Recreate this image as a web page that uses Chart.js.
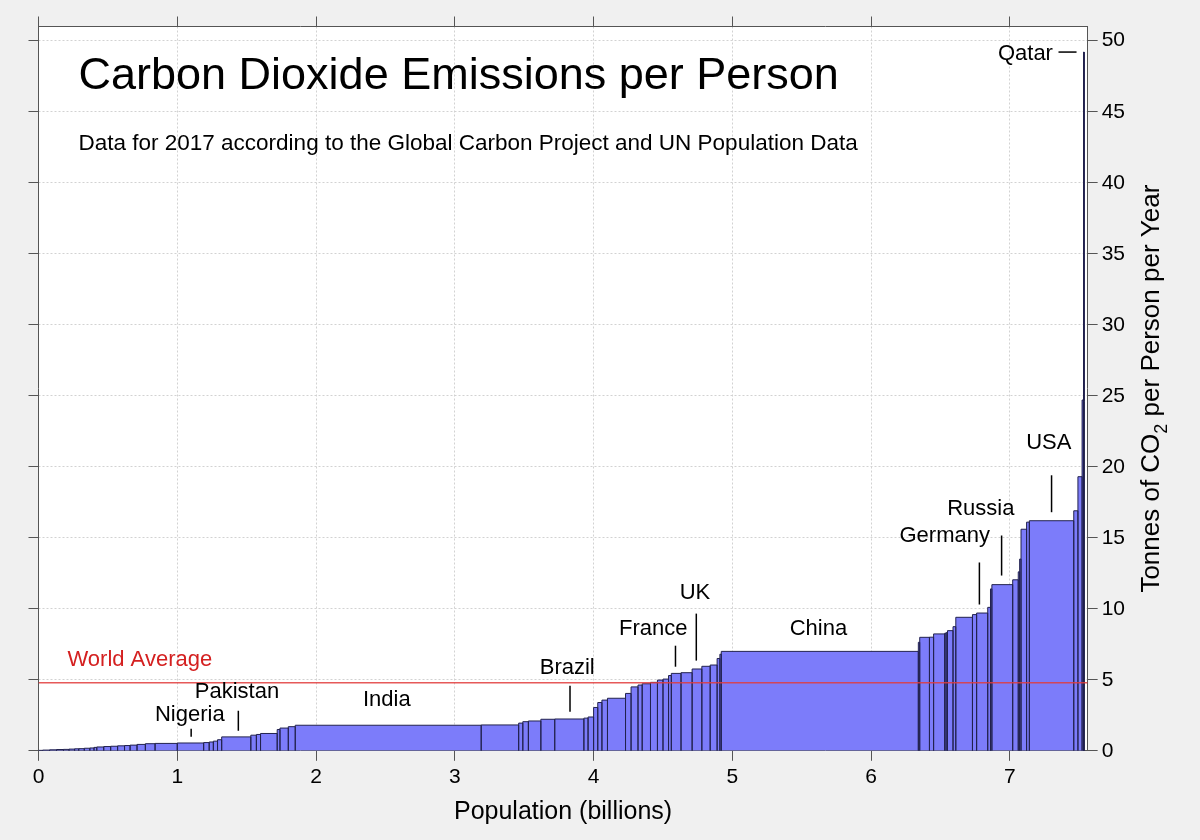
<!DOCTYPE html>
<html>
<head>
<meta charset="utf-8">
<script src="https://cdn.jsdelivr.net/npm/chart.js@4.4.1/dist/chart.umd.min.js"></script>
<style>
  html, body { margin: 0; padding: 0; background: #f0f0f0; }
  #wrap { width: 1200px; height: 840px; }
</style>
</head>
<body>
<div id="wrap"><canvas id="chart" width="1200" height="840"></canvas></div>
<script>
// population of each country (billions), sorted by emissions per person
const population = [
  0.03, 0.05, 0.05, 0.05, 0.04, 0.04, 0.03, 0.04, 0.04, 0.03,
  0.02, 0.05, 0.05, 0.05, 0.05, 0.04, 0.05, 0.06, 0.07, 0.16,
  0.19, 0.04, 0.03, 0.03, 0.03, 0.21, 0.04, 0.03, 0.12, 0.02,
  0.06, 0.05, 1.34, 0.27, 0.03, 0.04, 0.09, 0.10, 0.21, 0.03,
  0.04, 0.03, 0.03, 0.04, 0.13, 0.04, 0.05, 0.03, 0.06, 0.05,
  0.04, 0.04, 0.02, 0.07, 0.08, 0.07, 0.06, 0.05, 0.02, 0.01,
  1.42, 0.01, 0.07, 0.03, 0.08, 0.01, 0.01, 0.04, 0.02, 0.12,
  0.03, 0.08, 0.02, 0.01, 0.15, 0.04, 0.01, 0.01, 0.04, 0.02,
  0.32, 0.03, 0.03, 0.008, 0.004, 0.003
];
// tonnes of CO2 per person per year
const emissions = [
  0.03, 0.05, 0.07, 0.09, 0.10, 0.12, 0.14, 0.15, 0.18, 0.20,
  0.24, 0.27, 0.30, 0.32, 0.35, 0.37, 0.40, 0.45, 0.50, 0.52,
  0.55, 0.58, 0.62, 0.68, 0.78, 0.98, 1.10, 1.15, 1.22, 1.50,
  1.60, 1.70, 1.80, 1.82, 1.95, 2.05, 2.10, 2.22, 2.24, 2.30,
  2.38, 3.05, 3.40, 3.57, 3.70, 4.04, 4.50, 4.63, 4.72, 4.82,
  4.98, 5.05, 5.30, 5.45, 5.50, 5.76, 5.95, 6.04, 6.50, 6.80,
  7.00, 7.64, 7.99, 8.00, 8.23, 8.28, 8.32, 8.46, 8.74, 9.40,
  9.59, 9.70, 10.10, 11.40, 11.70, 12.04, 12.60, 13.50, 15.60, 16.10,
  16.20, 16.90, 19.30, 24.70, 29.00, 49.20
];
const worldAverage = 4.8;
const xTickValues = [0, 1, 2, 3, 4, 5, 6, 7];
const yTickValues = [0, 5, 10, 15, 20, 25, 30, 35, 40, 45, 50];

// labels and pointer lines, in data units
const notes = [
  { text: 'Nigeria',  x: 1.09, y: 2.55,  line: [1.10, 0.99, 1.10, 1.55] },
  { text: 'Pakistan', x: 1.43, y: 4.16,  line: [1.44, 1.41, 1.44, 2.82] },
  { text: 'India',    x: 2.51, y: 3.55 },
  { text: 'Brazil',   x: 3.81, y: 5.85,  line: [3.83, 2.75, 3.83, 4.58] },
  { text: 'France',   x: 4.43, y: 8.6,   line: [4.59, 5.92, 4.59, 7.4] },
  { text: 'UK',       x: 4.73, y: 11.15, line: [4.74, 6.35, 4.74, 9.66] },
  { text: 'China',    x: 5.62, y: 8.6 },
  { text: 'Germany',  x: 6.53, y: 15.1,  line: [6.78, 10.3, 6.78, 13.26] },
  { text: 'Russia',   x: 6.79, y: 17.05, line: [6.94, 12.34, 6.94, 15.16] },
  { text: 'USA',      x: 7.28, y: 21.65, line: [7.30, 16.8, 7.30, 19.4] },
  { text: 'Qatar',    x: 7.31, y: 49.1,  align: 'right', line: [7.35, 49.2, 7.48, 49.2] }
];

const FONT = '"Liberation Sans", Arial, sans-serif';

const outline = [];
let start = 0;
population.forEach((w, i) => {
  const end = start + w;
  outline.push({ x: start, y: 0 }, { x: start, y: emissions[i] },
               { x: end, y: emissions[i] }, { x: end, y: 0 });
  start = end;
});

const decor = {
  id: 'decor',
  beforeDraw(chart) {
    const { ctx, chartArea: a } = chart;
    ctx.save();
    ctx.fillStyle = '#f0f0f0';
    ctx.fillRect(0, 0, chart.width, chart.height);
    ctx.fillStyle = '#ffffff';
    ctx.fillRect(a.left, a.top, a.right - a.left, a.bottom - a.top);
    ctx.restore();
  },
  afterDatasetsDraw(chart) {
    const { ctx, chartArea: a, scales } = chart;
    const sx = scales.x, sy = scales.y;
    ctx.save();
    // title
    ctx.fillStyle = '#000';
    ctx.textBaseline = 'middle';
    ctx.textAlign = 'left';
    ctx.font = '45px ' + FONT;
    ctx.fillText('Carbon Dioxide Emissions per Person', a.left + 40, 77);
    ctx.font = '22.5px ' + FONT;
    ctx.fillText('Data for 2017 according to the Global Carbon Project and UN Population Data', a.left + 40, 144);

    // world average label
    ctx.fillStyle = '#d42020';
    ctx.font = '22px ' + FONT;
    ctx.textAlign = 'center';
    ctx.fillText('World Average', sx.getPixelForValue(0.73), sy.getPixelForValue(6.42));

    // country labels
    ctx.fillStyle = '#000';
    ctx.strokeStyle = '#000';
    ctx.lineWidth = 1.5;
    notes.forEach(n => {
      ctx.textAlign = n.align || 'center';
      ctx.fillText(n.text, sx.getPixelForValue(n.x), sy.getPixelForValue(n.y));
      if (n.line) {
        ctx.beginPath();
        ctx.moveTo(sx.getPixelForValue(n.line[0]), sy.getPixelForValue(n.line[1]));
        ctx.lineTo(sx.getPixelForValue(n.line[2]), sy.getPixelForValue(n.line[3]));
        ctx.stroke();
      }
    });

    // right axis title with subscript
    ctx.translate(a.right + 64, (a.top + a.bottom) / 2);
    ctx.rotate(-Math.PI / 2);
    const big = '26px ' + FONT, small = '18px ' + FONT;
    const p1 = 'Tonnes of CO', p2 = '2', p3 = ' per Person per Year';
    ctx.font = big;
    const w1 = ctx.measureText(p1).width, w3 = ctx.measureText(p3).width;
    ctx.font = small;
    const w2 = ctx.measureText(p2).width;
    let tx = -(w1 + w2 + w3) / 2;
    ctx.textAlign = 'left';
    ctx.font = big;
    ctx.fillText(p1, tx, 0);
    ctx.font = small;
    ctx.fillText(p2, tx + w1, 10);
    ctx.font = big;
    ctx.fillText(p3, tx + w1 + w2, 0);
    ctx.restore();
  }
};

const tickFont = { family: FONT, size: 21 };
const frame = { display: true, color: '#555555', width: 1 };

new Chart(document.getElementById('chart'), {
  type: 'line',
  data: {
    datasets: [
      {
        data: [{ x: 0, y: worldAverage }, { x: 7.56, y: worldAverage }],
        borderColor: 'rgba(226, 60, 60, 0.85)',
        borderWidth: 1.5,
        pointRadius: 0,
        fill: false
      },
      {
        data: outline,
        borderColor: '#22224e',
        borderWidth: 1,
        backgroundColor: '#7c7cfa',
        pointRadius: 0,
        tension: 0,
        fill: 'origin'
      }
    ]
  },
  plugins: [decor],
  options: {
    responsive: false,
    animation: false,
    devicePixelRatio: 1,
    layout: { padding: { left: 28.5, top: 16.5, right: 71, bottom: 9 } },
    plugins: { legend: { display: false }, tooltip: { enabled: false } },
    scales: {
      x: {
        type: 'linear', position: 'bottom', min: 0, max: 7.56,
        afterBuildTicks: s => { s.ticks = xTickValues.map(v => ({ value: v })); },
        ticks: { font: tickFont, color: '#000', padding: 4 },
        grid: { color: '#d2d2d2', tickColor: '#555555', tickLength: 10 },
        border: Object.assign({ dash: [2, 2] }, frame),
        title: { display: true, text: 'Population (billions)', color: '#000',
                 font: { family: FONT, size: 25 }, padding: { top: 3, bottom: 4 } }
      },
      xTop: {
        type: 'linear', position: 'top', min: 0, max: 7.56,
        afterBuildTicks: s => { s.ticks = xTickValues.map(v => ({ value: v })); },
        ticks: { display: false },
        grid: { drawOnChartArea: false, tickColor: '#555555', tickLength: 10 },
        border: frame
      },
      y: {
        type: 'linear', position: 'right', min: 0, max: 51,
        afterBuildTicks: s => { s.ticks = yTickValues.map(v => ({ value: v })); },
        ticks: { font: tickFont, color: '#000', padding: 4 },
        grid: { color: '#d2d2d2', tickColor: '#555555', tickLength: 10 },
        border: Object.assign({ dash: [2, 2] }, frame)
      },
      yLeft: {
        type: 'linear', position: 'left', min: 0, max: 51,
        afterBuildTicks: s => { s.ticks = yTickValues.map(v => ({ value: v })); },
        ticks: { display: false },
        grid: { drawOnChartArea: false, tickColor: '#555555', tickLength: 10 },
        border: frame
      }
    }
  }
});
</script>
</body>
</html>
